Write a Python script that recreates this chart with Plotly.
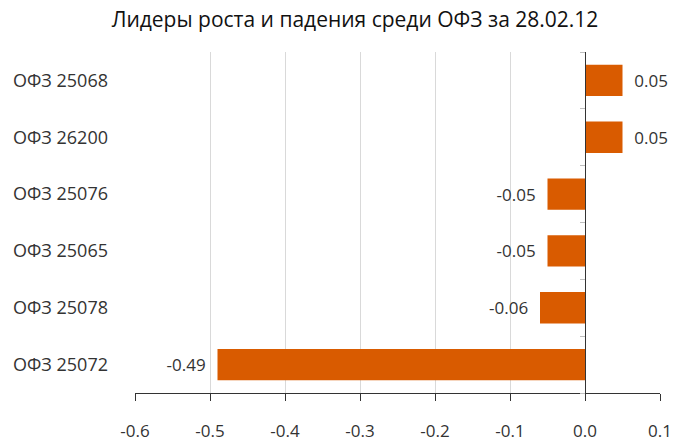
import plotly.graph_objects as go

categories = ["ОФЗ 25068", "ОФЗ 26200", "ОФЗ 25076", "ОФЗ 25065", "ОФЗ 25078", "ОФЗ 25072"]
values = [0.05, 0.05, -0.05, -0.05, -0.06, -0.49]
labels = ["0.05", "0.05", "-0.05", "-0.05", "-0.06", "-0.49"]
x_ticks = [-0.6, -0.5, -0.4, -0.3, -0.2, -0.1, 0.0, 0.1]
x_tick_text = ["-0.6", "-0.5", "-0.4", "-0.3", "-0.2", "-0.1", "0.0", "0.1"]

FONT = "Open Sans"
BAR = "#D95B00"

padded = [("  " + t) if v > 0 else (t + "  ") for t, v in zip(labels, values)]

fig = go.Figure()
fig.add_trace(go.Bar(
    y=categories, x=values, orientation="h",
    marker=dict(color=BAR, line=dict(width=0)),
    text=padded, textposition="outside", cliponaxis=False,
    constraintext="none",
    textfont=dict(family=FONT, size=17, color="#333333"),
    hoverinfo="skip",
))
# invisible trace for the zero-position axis
fig.add_trace(go.Scatter(y=categories, x=[0] * len(categories), yaxis="y2",
                         mode="markers", marker=dict(opacity=0), showlegend=False,
                         hoverinfo="skip"))

n = len(categories)
fig.update_layout(
    width=675, height=441,
    margin=dict(l=135, r=15, t=52, b=48, autoexpand=False),
    paper_bgcolor="white", plot_bgcolor="white",
    showlegend=False,
    bargap=0.45,
    title=dict(text="Лидеры роста и падения среди ОФЗ за 28.02.12",
               x=355 / 675, xanchor="center", y=0.955, yanchor="middle",
               font=dict(family=FONT, size=21, color="#111111")),
    xaxis=dict(range=[-0.6, 0.1], tickvals=x_ticks, ticktext=x_tick_text,
               automargin=False,
               showgrid=True, gridcolor="#d9d9d9", gridwidth=1,
               zeroline=False, showline=True, linecolor="#333333", linewidth=1,
               ticks="outside", ticklen=7, tickcolor="#333333",
               ticklabelstandoff=16,
               tickfont=dict(family=FONT, size=17, color="#333333")),
    yaxis=dict(categoryorder="array", categoryarray=categories[::-1],
               range=[-0.5, n - 0.5], automargin=False,
               showgrid=False, zeroline=False, showline=False, ticks="",
               ticklabelstandoff=26,
               tickfont=dict(family=FONT, size=18, color="#333333")),
    yaxis2=dict(overlaying="y", anchor="free", position=450 / 525, side="left",
                range=[-0.5, n - 0.5], showticklabels=False, automargin=False,
                tickvals=[i + 0.5 for i in range(-1, n)],
                ticks="outside", ticklen=5, tickcolor="#bfbfbf",
                showline=True, linecolor="#333333", linewidth=1,
                showgrid=False, zeroline=False),
)
fig.write_html("out.html", config={"displayModeBar": False},
               post_script="document.body.style.margin='0';document.body.style.padding='0';")
